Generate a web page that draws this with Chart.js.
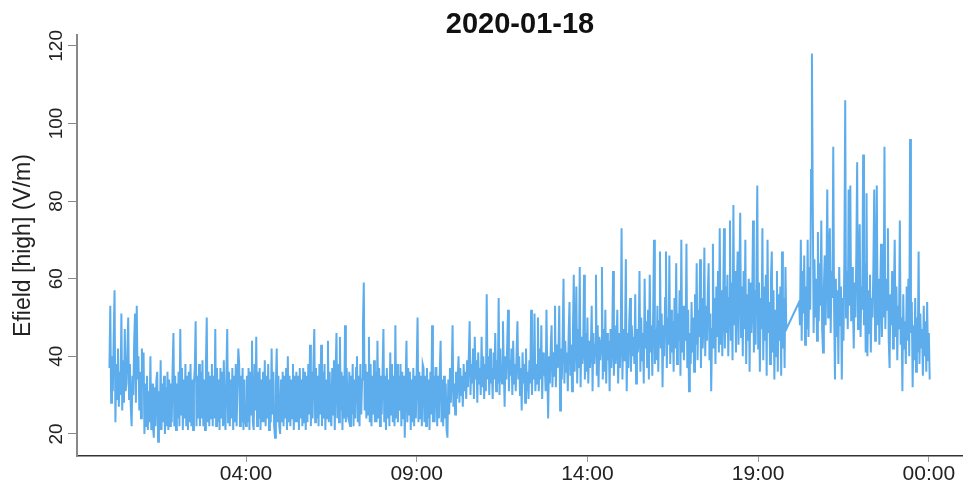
<!DOCTYPE html>
<html>
<head>
<meta charset="utf-8">
<title>Efield 2020-01-18</title>
<script src="https://cdn.jsdelivr.net/npm/chart.js@4.4.1/dist/chart.umd.min.js"></script>
<style>
  html, body { margin: 0; padding: 0; background: #fff; }
  #wrap { width: 963px; height: 483px; }
</style>
</head>
<body>
<div id="wrap"><canvas id="c" width="963" height="483"></canvas></div>
<script>
// Electric field (high-gain channel), one sample every 90 seconds.
const chartTitle = '2020-01-18';
const yAxisTitle = 'Efield [high] (V/m)';
const sampleStepHours = 0.025;          // 1.5 minutes

// Block A: 00:00 -> 19:49 (one row = half an hour)
const efieldAStart = 0;
const efieldA = [
  37,53,28,40,31,45,57,23,38,29,42,27,36,30,51,26,39,28,47,31,
  33,41,50,29,38,27,22,35,30,44,51,28,53,34,40,26,36,24,42,32,
  41,20,33,22,35,21,31,23,40,21,33,22,19,32,22,34,36,18,31,21,
  39,21,33,23,35,20,32,22,36,21,34,22,33,23,37,46,22,35,21,33,
  24,36,22,47,25,37,21,34,24,38,22,35,21,36,23,38,22,34,21,33,
  37,49,22,35,24,38,22,36,24,39,22,34,21,37,50,23,36,22,35,24,
  38,22,35,24,47,22,37,23,34,21,37,24,36,22,39,24,21,35,47,23,
  36,22,34,24,37,21,35,23,38,22,33,42,38,22,35,23,37,21,34,24,
  22,35,23,37,21,36,25,44,23,21,38,26,45,22,36,24,37,21,34,23,
  36,23,39,22,35,24,38,21,34,23,42,25,36,22,19,33,42,23,35,22,
  20,34,23,36,22,35,24,37,21,40,23,35,22,34,24,38,21,35,23,36,
  23,35,21,37,24,34,22,37,23,36,21,35,23,38,25,43,22,36,24,38,
  47,23,37,24,35,22,38,25,43,22,36,24,38,21,34,24,44,23,36,25,
  22,37,25,39,21,36,46,24,38,23,45,26,36,21,35,24,48,23,37,25,
  24,36,22,35,25,38,22,34,24,37,40,23,35,22,38,25,34,48,59,26,
  38,24,36,25,45,23,38,22,35,25,39,23,36,23,44,24,37,22,35,25,
  36,47,23,35,21,37,24,34,22,41,25,38,23,35,22,48,24,38,23,35,
  26,38,22,36,24,35,19,33,44,23,37,25,36,21,34,23,37,22,35,24,
  37,50,23,36,24,35,22,38,37,23,35,22,37,24,34,21,36,25,48,23,
  35,23,37,37,22,35,24,36,44,23,34,22,35,24,33,21,19,34,25,37,
  28,35,48,27,33,25,36,29,34,40,28,37,30,35,27,38,31,36,29,39,
  32,40,49,30,38,33,42,29,45,34,39,28,41,33,37,30,45,32,40,29,
  38,31,56,34,40,30,42,33,37,29,41,34,46,31,39,33,55,30,42,35,
  33,49,37,27,40,34,43,52,31,39,35,42,30,44,33,38,31,41,49,34,
  40,30,37,26,41,33,38,28,42,31,36,29,39,33,52,30,40,34,51,31,
  38,33,50,31,42,34,48,29,41,35,38,31,52,36,24,40,33,42,48,32,
  41,35,53,32,43,37,40,53,26,42,34,45,60,33,44,36,41,31,46,54,
  35,43,31,46,61,36,44,58,33,47,37,63,32,45,38,42,61,34,46,36,
  50,33,44,37,42,53,31,46,38,43,61,35,48,32,45,39,44,63,34,47,
  36,52,33,46,39,44,31,47,37,43,62,35,48,38,42,52,33,46,37,44,
  73,34,47,39,44,65,31,46,37,49,55,36,48,40,45,38,56,33,47,41,
  44,62,36,50,39,46,33,60,42,49,37,52,34,61,41,48,35,51,70,38,
  47,39,53,36,49,67,42,51,32,48,40,55,67,37,50,43,66,38,52,41,
  49,36,55,42,64,38,51,44,57,35,70,41,53,39,50,44,69,37,52,31,
  46,38,54,41,50,36,56,43,64,39,52,45,65,37,55,42,49,68,40,53,
  44,56,64,39,51,31,47,69,42,55,38,58,45,62,41,73,43,57,40,54,
  73,42,58,46,61,40,55,75,44,59,39,79,48,62,41,57,67,43,60,77,
  45,58,40,62,47,70,38,56,44,60,36,59,46,53,75,41,57,43,61,84,
  42,59,36,55,47,73,39,58,44,61,35,70,46,54,38,60,67,41,57,34,
  52,40,62,36,56,44,58,35,67,42,55,37,63,47
];

// Block B: 20:12 -> 24:01
const efieldBStart = 20.2;
const efieldB = [
  54,48,70,44,62,51,66,43,58,47,70,45,63,52,88,118,79,46,65,50,
  60,44,72,49,64,53,75,47,41,58,66,48,61,83,50,67,73,46,62,55,
  94,52,34,60,45,57,38,63,48,58,34,55,44,65,106,50,62,47,83,53,
  84,49,63,55,42,59,50,66,90,47,61,74,45,58,52,92,48,64,41,82,
  40,57,46,61,41,55,50,63,83,44,59,84,48,60,43,56,69,45,58,50,
  94,47,60,52,73,44,37,56,48,62,42,55,70,45,58,39,53,47,75,43,
  50,31,56,42,49,38,58,44,60,40,96,46,54,32,48,39,55,36,50,41,
  67,38,51,42,47,35,53,40,49,36,54,39,46,34
];

// Axis ticks
const xTickHours = [4, 9, 14, 19, 24];
const xTickLabels = ['04:00', '09:00', '14:00', '19:00', '00:00'];
const yTickValues = [20, 40, 60, 80, 100, 120];

function toPoints(start, values) {
  return values.map((v, i) => ({ x: +(start + i * sampleStepHours).toFixed(4), y: v }));
}
const points = toPoints(efieldAStart, efieldA).concat(toPoints(efieldBStart, efieldB));

const font = 'Liberation Sans, Arial, Helvetica, sans-serif';

new Chart(document.getElementById('c'), {
  type: 'line',
  data: {
    datasets: [{
      data: points,
      borderColor: '#5dadec',
      borderWidth: 2,
      borderJoinStyle: 'miter',
      pointRadius: 0,
      tension: 0,
      fill: false
    }]
  },
  options: {
    responsive: false,
    animation: false,
    devicePixelRatio: 1,
    layout: { padding: 0 },
    plugins: { legend: { display: false }, tooltip: { enabled: false }, title: { display: false } },
    scales: {
      x: {
        type: 'linear',
        position: 'bottom',
        min: -0.95,
        max: 25,
        afterBuildTicks: s => { s.ticks = xTickHours.map(v => ({ value: v })); },
        afterFit: s => { s.height = 27; },
        ticks: {
          autoSkip: false,
          maxRotation: 0,
          padding: 0,
          color: '#222',
          font: { family: font, size: 21 },
          callback: v => xTickLabels[xTickHours.indexOf(v)]
        },
        grid: { drawOnChartArea: false, drawTicks: true, tickLength: 6, color: '#999', lineWidth: 1 },
        border: { display: true, color: '#333', width: 1.5 }
      },
      top: {
        type: 'linear',
        position: 'top',
        min: -0.95,
        max: 25,
        afterFit: s => { s.height = 35; },
        ticks: { display: false },
        grid: { display: false, drawTicks: false },
        border: { display: false },
        title: {
          display: true,
          text: chartTitle,
          color: '#111',
          font: { family: font, size: 29, weight: 'bold' },
          padding: { top: 8, bottom: 0 }
        }
      },
      y: {
        type: 'linear',
        position: 'left',
        min: 14.3,
        max: 122.8,
        afterBuildTicks: s => { s.ticks = yTickValues.map(v => ({ value: v })); },
        afterFit: s => { s.width = 77; },
        ticks: {
          autoSkip: false,
          minRotation: 90,
          maxRotation: 90,
          crossAlign: 'center',
          padding: -5,
          color: '#222',
          font: { family: font, size: 19 }
        },
        grid: { drawOnChartArea: false, drawTicks: true, tickLength: 9, color: '#888', lineWidth: 1 },
        border: { display: true, color: '#888', width: 2 },
        title: {
          display: true,
          text: yAxisTitle,
          color: '#222',
          font: { family: font, size: 23 },
          padding: { top: 10, bottom: 0 }
        }
      }
    }
  }
});
</script>
</body>
</html>
